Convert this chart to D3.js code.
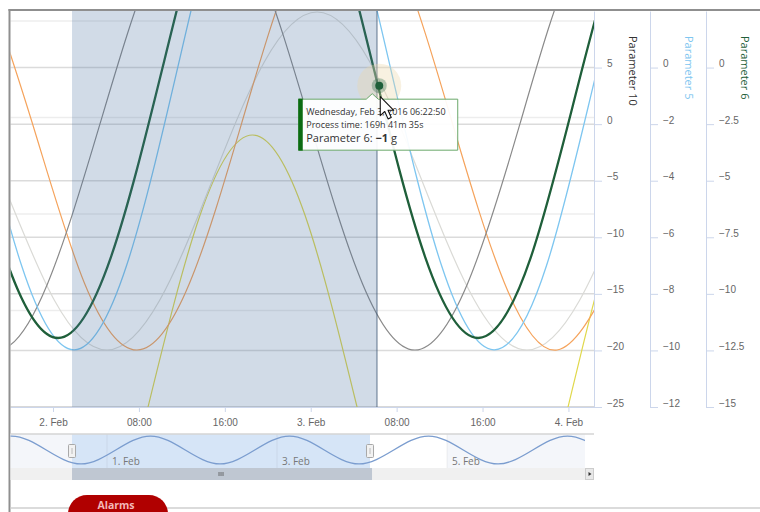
<!DOCTYPE html>
<html>
<head>
<meta charset="utf-8">
<script src="https://cdn.jsdelivr.net/npm/d3@7"></script>
<style>
  body { margin: 0; background: #fff; }
  svg { display: block; font-family: "Open Sans", "Noto Sans", sans-serif; }
</style>
</head>
<body>
<div id="chart"></div>
<script>
// all times are hours from 2016-02-02 00:00 (UTC)
const t0 = Date.UTC(2016, 1, 2);
const viewStart = -3.96, viewEnd = 50.38;

// Parameter 6 (dark green)
const p6Hours  = [-9.31, -4.42, 0.47, 5.36, 10.25, 15.13, 20.02, 24.91, 29.80, 34.69, 39.58, 44.47, 49.36, 54.25];
const p6Values = [0.09, -8.42, -11.95, -8.42, 0.09, 8.60, 12.12, 8.60, 0.09, -8.42, -11.95, -8.42, 0.09, 8.60];
// Parameter 5 (light blue)
const p5Hours  = [-7.82, -2.93, 1.96, 6.85, 11.74, 16.62, 21.51, 26.40, 31.29, 36.18, 41.07, 45.96, 50.85, 55.74];
const p5Values = [0.21, -7.00, -9.98, -7.00, 0.21, 7.42, 10.41, 7.42, 0.21, -7.00, -9.98, -7.00, 0.21, 7.42];
// Parameter 10 (gray)
const p10Hours  = [-10.29, -5.40, -0.51, 4.38, 9.27, 14.16, 19.05, 23.94, 28.82, 33.71, 38.60, 43.49, 48.38, 53.27];
const p10Values = [-14.10, -19.96, -14.10, 0.04, 14.19, 20.04, 14.19, 0.04, -14.10, -19.96, -14.10, 0.04, 14.19, 20.04];
// series on the hidden axis
const silverHours  = [-9.64, -4.75, 0.14, 5.03, 9.92, 14.81, 19.70, 24.59, 29.48, 34.37, 39.26, 44.14, 49.03, 53.92];
const silverValues = [89.51, 58.55, 27.59, 14.77, 27.59, 58.55, 89.51, 102.33, 89.51, 58.55, 27.59, 14.77, 27.59, 58.55];
const orangeHours  = [-6.85, -1.96, 2.93, 7.82, 12.71, 17.60, 22.49, 27.38, 32.27, 37.16, 42.05, 46.94, 51.83];
const orangeValues = [115.60, 73.83, 32.07, 14.77, 32.07, 73.83, 115.60, 132.90, 115.60, 73.83, 32.07, 14.77, 32.07];
const yellowHours  = [-5.87, -0.98, 3.91, 8.80, 13.69, 18.58, 23.47, 28.36, 33.25, 38.14, 43.03, 47.92, 52.81, 57.70];
const yellowValues = [-50.70, -71.50, -50.70, -0.52, 49.66, 70.47, 49.66, -0.52, -50.70, -71.50, -50.70, -0.52, 49.66, 70.47];

// navigator series
const navHours  = [-60.78, -50.96, -41.15, -31.34, -21.53, -11.72, -1.91, 7.91, 17.72, 27.53, 37.34, 47.15, 56.96, 66.78, 76.59, 86.40, 96.21, 106.02, 115.83];
const navValues = [53, 94, 53, 12, 53, 94, 53, 12, 53, 94, 53, 12, 53, 94, 53, 12, 53, 94, 53];
const navStart = -51.25, navEnd = 110.96;
const navMask = [-33.88, 50.26];
const navTickHours = [-24, 24, 72];

// axes
const p10Ticks = [-25, -20, -15, -10, -5, 0, 5];
const p5Ticks = [-12, -10, -8, -6, -4, -2, 0];
const p6Ticks = [-15, -12.5, -10, -7.5, -5, -2.5, 0];
const hiddenTicks = [0, 25, 50, 75, 100];
const xTickHours = [0, 8, 16, 24, 32, 40, 48];

// selection band and hovered point
const bandHours = [1.77, 30.17];
const hoverHour = 30 + 22 / 60 + 50 / 3600;
const hoverValue = -0.8;

const toDate = h => new Date(t0 + h * 3600e3);

const W = 760, H = 512;
const pL = 10.5, pR = 594, pT = 11, pB = 407;

const svg = d3.select('#chart').append('svg')
    .attr('width', W).attr('height', H);

const x = d3.scaleUtc().domain([toDate(viewStart), toDate(viewEnd)]).range([pL, pR]);
const y = {
    p10: d3.scaleLinear([-25, 10], [pB, pT]),
    p5: d3.scaleLinear([-12, 2], [pB, pT]),
    p6: d3.scaleLinear([-15, 2.5], [pB, pT]),
    hidden: d3.scaleLinear([0, 102.59], [pB, pT])
};

const series = [
    {h: yellowHours, v: yellowValues, axis: 'hidden', color: '#e0d84c', w: 1.2},
    {h: silverHours, v: silverValues, axis: 'hidden', color: '#dadad6', w: 1.2},
    {h: orangeHours, v: orangeValues, axis: 'hidden', color: '#f5a35c', w: 1.2},
    {h: p10Hours, v: p10Values, axis: 'p10', color: '#8a8a8a', w: 1.2},
    {h: p5Hours, v: p5Values, axis: 'p5', color: '#7ec6f0', w: 1.3},
    {h: p6Hours, v: p6Values, axis: 'p6', color: '#1f5f3a', w: 2.3}
];

svg.append('clipPath').attr('id', 'plotclip')
  .append('rect').attr('x', pL).attr('y', pT).attr('width', pR - pL).attr('height', pB - pT);

// gridlines
const grid = svg.append('g');
grid.selectAll('line.faint').data(hiddenTicks).join('line')
    .attr('x1', pL).attr('x2', pR)
    .attr('y1', d => y.hidden(d)).attr('y2', d => y.hidden(d))
    .attr('stroke', '#000').attr('stroke-opacity', 0.07).attr('stroke-width', 1.5);
grid.selectAll('line.main').data(p10Ticks).join('line')
    .attr('x1', pL).attr('x2', pR)
    .attr('y1', d => y.p10(d)).attr('y2', d => y.p10(d))
    .attr('stroke', '#000').attr('stroke-opacity', 0.14).attr('stroke-width', 1.5);

// series
const plot = svg.append('g').attr('clip-path', 'url(#plotclip)');
series.forEach(s => {
    const line = d3.line()
        .x(d => x(toDate(d[0])))
        .y(d => y[s.axis](d[1]))
        .curve(d3.curveNatural);
    plot.append('path')
        .datum(d3.zip(s.h, s.v))
        .attr('d', line)
        .attr('fill', 'none')
        .attr('stroke', s.color)
        .attr('stroke-width', s.w);
});

// selection band (drawn over the series)
const bx0 = x(toDate(bandHours[0])), bx1 = x(toDate(bandHours[1]));
plot.append('rect')
    .attr('x', bx0).attr('y', pT).attr('width', bx1 - bx0).attr('height', pB - pT)
    .attr('fill', 'rgb(70,110,160)').attr('fill-opacity', 0.25);
plot.append('line')
    .attr('x1', bx1).attr('x2', bx1).attr('y1', pT).attr('y2', pB)
    .attr('stroke', 'rgb(60,85,115)').attr('stroke-opacity', 0.4).attr('stroke-width', 2);

// x axis
const fmtX = d => d.getUTCHours() === 0 ? d3.utcFormat('%-d. %b')(d) : d3.utcFormat('%H:%M')(d);
const gx = svg.append('g').attr('transform', `translate(0,${pB})`)
    .call(d3.axisBottom(x).tickValues(xTickHours.map(toDate)).tickFormat(fmtX)
        .tickSize(5).tickSizeOuter(0).tickPadding(7));
gx.selectAll('path,line').attr('stroke', '#ccd6eb');
gx.selectAll('text').attr('fill', '#666').style('font-size', '10px');

// right y axes
const axes = [
    {scale: y.p10, ticks: p10Ticks, pos: 594, title: 'Parameter 10', color: '#333'},
    {scale: y.p5, ticks: p5Ticks, pos: 650, title: 'Parameter 5', color: '#7ec6f0'},
    {scale: y.p6, ticks: p6Ticks, pos: 706, title: 'Parameter 6', color: '#1f5f3a'}
];
axes.forEach(a => {
    const g = svg.append('g').attr('transform', `translate(${a.pos},0)`)
        .call(d3.axisRight(a.scale).tickValues(a.ticks).tickFormat(d3.format('~g'))
            .tickSize(8).tickSizeOuter(0).tickPadding(5));
    g.selectAll('path,line').attr('stroke', '#ccd6eb');
    g.selectAll('text').attr('fill', '#666').attr('dy', '-0.1em').style('font-size', '10px');
    svg.append('text')
        .attr('transform', `translate(${a.pos + 39},36) rotate(90)`)
        .attr('dy', '0.35em')
        .attr('fill', a.color)
        .style('font-size', '11px')
        .text(a.title);
});

// frame
svg.append('line').attr('x1', 8.5).attr('x2', W).attr('y1', 10).attr('y2', 10)
    .attr('stroke', '#8f8f8f').attr('stroke-width', 2);
svg.append('line').attr('x1', 9.5).attr('x2', 9.5).attr('y1', 9).attr('y2', H)
    .attr('stroke', '#8f8f8f').attr('stroke-width', 2);

// navigator
const navTop = 434, navBottom = 468, navRight = 585;
const nx = d3.scaleUtc().domain([toDate(navStart), toDate(navEnd)]).range([pL, navRight]);
const ny = d3.scaleLinear([0, 100], [navBottom, navTop]);
const nav = svg.append('g');
const m0 = nx(toDate(navMask[0])), m1 = nx(toDate(navMask[1]));
const f1 = nx(toDate(navTickHours[2]));
nav.append('rect').attr('x', pL).attr('y', navTop).attr('width', m0 - pL).attr('height', navBottom - navTop)
    .attr('fill', '#f4f6fa');
nav.append('rect').attr('x', f1).attr('y', navTop).attr('width', navRight - f1).attr('height', navBottom - navTop)
    .attr('fill', '#f4f6fa');
nav.append('rect').attr('x', m0).attr('y', navTop).attr('width', m1 - m0).attr('height', navBottom - navTop)
    .attr('fill', '#d6e5f7');
nav.selectAll('line.ng').data(navTickHours).join('line')
    .attr('x1', d => nx(toDate(d))).attr('x2', d => nx(toDate(d)))
    .attr('y1', navTop).attr('y2', navBottom)
    .attr('stroke', '#000').attr('stroke-opacity', 0.06);
nav.selectAll('text.nl').data(navTickHours).join('text')
    .attr('x', d => nx(toDate(d)) + 5).attr('y', 465)
    .attr('fill', '#777').style('font-size', '10px')
    .text(d => d3.utcFormat('%-d. %b')(toDate(d)));
svg.append('clipPath').attr('id', 'navclip')
  .append('rect').attr('x', pL).attr('y', navTop - 2).attr('width', navRight - pL).attr('height', navBottom - navTop + 4);
nav.append('path')
    .datum(d3.zip(navHours, navValues))
    .attr('clip-path', 'url(#navclip)')
    .attr('d', d3.line().x(d => nx(toDate(d[0]))).y(d => ny(d[1])).curve(d3.curveNatural))
    .attr('fill', 'none').attr('stroke', '#7b9dcf').attr('stroke-width', 1.3);
nav.append('line').attr('x1', pL).attr('x2', pR).attr('y1', navTop).attr('y2', navTop)
    .attr('stroke', '#d4d4d4').attr('stroke-width', 1.5);
[m0, m1].forEach(hx => {
    nav.append('rect').attr('x', hx - 3.5).attr('y', 444.5).attr('width', 7).attr('height', 13).attr('rx', 1)
        .attr('fill', '#f2f2f2').attr('stroke', '#a8a8a8');
    nav.append('line').attr('x1', hx).attr('x2', hx).attr('y1', 448).attr('y2', 454)
        .attr('stroke', '#bbb');
});

// scrollbar
const sbTop = 468, sbH = 12;
nav.append('rect').attr('x', pL).attr('y', sbTop).attr('width', pR - pL).attr('height', sbH).attr('fill', '#f0f0f0');
nav.append('rect').attr('x', m0).attr('y', sbTop).attr('width', m1 - m0 + 2).attr('height', sbH).attr('fill', '#bfc7d2');
const gripX = (m0 + m1) / 2;
[-2, 0, 2].forEach(o => nav.append('line')
    .attr('x1', gripX + o).attr('x2', gripX + o).attr('y1', sbTop + 4).attr('y2', sbTop + 8)
    .attr('stroke', '#555').attr('stroke-width', 0.8));
nav.append('rect').attr('x', navRight + 0.5).attr('y', sbTop + 0.5).attr('width', pR - navRight - 1).attr('height', sbH - 1)
    .attr('fill', '#e8e8e8').attr('stroke', '#ccc');
nav.append('path').attr('d', `M${navRight + 3.5},${sbTop + 4}l3,2l-3,2z`).attr('fill', '#333');

// bottom rule and alarms button
svg.append('line').attr('x1', pL).attr('x2', W).attr('y1', 508).attr('y2', 508)
    .attr('stroke', '#cfcfcf').attr('stroke-width', 1.5);
svg.append('rect').attr('x', 68).attr('y', 495).attr('width', 100).attr('height', 40).attr('rx', 19)
    .attr('fill', '#b00000');
svg.append('text').attr('x', 116).attr('y', 509).attr('text-anchor', 'middle')
    .attr('fill', '#f3b8b8').style('font-size', '10.5px').style('font-weight', 'bold').text('Alarms');

// hover marker
const hx = x(toDate(hoverHour)), hy = y.p6(hoverValue);
svg.append('circle').attr('cx', hx).attr('cy', hy).attr('r', 22).attr('fill', 'rgb(235,215,170)').attr('fill-opacity', 0.35);
svg.append('circle').attr('cx', hx).attr('cy', hy).attr('r', 7.5).attr('fill', '#1f5f3a').attr('fill-opacity', 0.3);
svg.append('circle').attr('cx', hx).attr('cy', hy).attr('r', 4).attr('fill', '#1f5f3a');

// tooltip
const tip = svg.append('g').attr('transform', `translate(${hx - 81},${hy + 13})`);
tip.append('path')
    .attr('d', 'M0.5,0.5H68L74,-5L80,0.5H159.5V51.5H0.5Z')
    .attr('fill', '#fff').attr('fill-opacity', 0.93)
    .attr('stroke', '#6aa86a').attr('stroke-width', 1);
tip.append('rect').attr('x', 0).attr('y', 0).attr('width', 4.5).attr('height', 52).attr('fill', '#0b6b12');
tip.append('text').attr('x', 8).attr('y', 16.5).attr('fill', '#333').style('font-size', '9px')
    .text(d3.utcFormat('%A, %b %-d, %Y %H:%M:%S')(toDate(hoverHour)));
tip.append('text').attr('x', 8).attr('y', 29).attr('fill', '#333').style('font-size', '9px')
    .text('Process time: 169h 41m 35s');
const t3 = tip.append('text').attr('x', 8).attr('y', 43.5).attr('fill', '#333').style('font-size', '11px');
t3.append('tspan').text('Parameter 6: ');
t3.append('tspan').style('font-weight', 'bold').text(d3.format('.0f')(hoverValue));
t3.append('tspan').text(' g');

// mouse pointer
svg.append('path')
    .attr('transform', `translate(${hx + 1},${hy + 11})`)
    .attr('d', 'M0,0V19L4.5,14.8L7.8,22.2L11,20.8L7.8,13.6H13.5Z')
    .attr('fill', '#fff').attr('stroke', '#111').attr('stroke-width', 1.1).attr('stroke-linejoin', 'round');
</script>
</body>
</html>
